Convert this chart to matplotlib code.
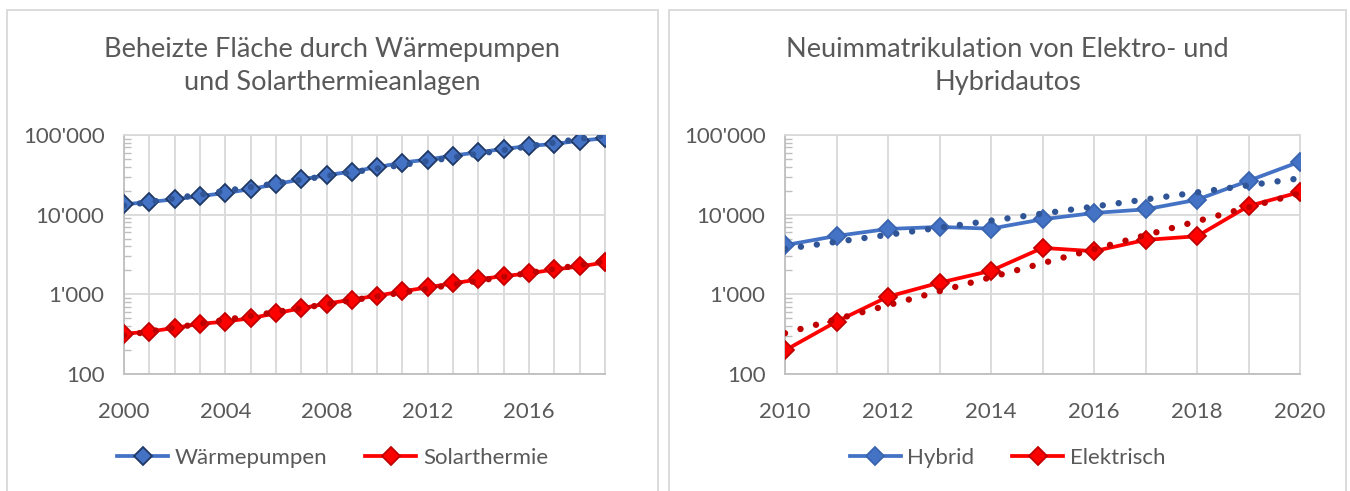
import numpy as np
import matplotlib
matplotlib.use("Agg")
import matplotlib.pyplot as plt
from matplotlib.patches import Rectangle
from matplotlib.ticker import FuncFormatter, LogLocator, NullFormatter

plt.rcParams['font.family'] = ['Lato', 'DejaVu Sans']

# Daten links: beheizte Flaeche
jahre_links = list(range(2000, 2020))
waermepumpen = [13500, 14400, 15600, 17100, 18700, 20900, 24200, 27700, 31300, 34800,
                39400, 45100, 49200, 55200, 60700, 66800, 72900, 77200, 85000, 90800]
solarthermie = [319, 341, 379, 426, 455, 501, 579, 668, 764, 858,
                962, 1090, 1223, 1373, 1540, 1695, 1830, 2054, 2239, 2512]

# Daten rechts: Neuimmatrikulationen
jahre_rechts = list(range(2010, 2021))
hybrid = [4140, 5410, 6620, 7010, 6680, 8750, 10500, 11660, 15400, 26600, 46400]
elektrisch = [198, 455, 935, 1400, 1976, 3830, 3480, 4820, 5360, 12830, 19200]

titel_links = "Beheizte Fläche durch Wärmepumpen\nund Solarthermieanlagen"
titel_rechts = "Neuimmatrikulation von Elektro- und\nHybridautos"

GRAU = '#595959'
GRID = '#D9D9D9'
BLAU = '#4472C4'
BLAU_D = '#2F5597'
ROT = '#FF0000'
ROT_D = '#C00000'

W, H = 1350, 491
fig = plt.figure(figsize=(W / 100, H / 100), dpi=100)

# Rahmen der beiden Diagramme
for x0, x1 in [(7, 658), (669, 1346)]:
    fig.patches.append(Rectangle((x0 / W, -0.05), (x1 - x0) / W, (H - 10) / H + 0.05,
                                 transform=fig.transFigure, fill=False,
                                 edgecolor=GRID, linewidth=1.3))


def tausender(v, pos):
    return "{:,.0f}".format(v).replace(",", "'")


def trend(ax, x, y, farbe):
    x = np.array(x, dtype=float)
    k, d = np.polyfit(x, np.log10(y), 1)
    ax.plot(x, 10 ** (k * x + d), color=farbe, linewidth=4.6,
            linestyle=(0, (0.01, 2.5)), dash_capstyle='round', zorder=4)


def panel(rect, jahre, reihen, tick_step, titel, mitte):
    ax = fig.add_axes(rect)
    ax.set_yscale('log')
    ax.set_ylim(100, 100000)
    ax.set_xlim(jahre[0], jahre[-1])
    handles = []
    for werte, lab, lfarbe, kante, tfarbe in reihen:
        h, = ax.plot(jahre, werte, color=lfarbe, linewidth=2.7, marker='D',
                     markersize=9.5, markerfacecolor=lfarbe, markeredgecolor=kante,
                     markeredgewidth=1.3, zorder=3, label=lab)
        handles.append(h)
        trend(ax, jahre, werte, tfarbe)
    ax.set_xticks(jahre, minor=True)
    ax.set_xticks(list(range(jahre[0], jahre[-1] + 1, tick_step)))
    ax.grid(True, which='major', axis='both', color=GRID, linewidth=1.3, zorder=0)
    ax.grid(True, which='minor', axis='x', color=GRID, linewidth=1.3, zorder=0)
    ax.yaxis.set_major_locator(LogLocator(base=10, numticks=10))
    ax.yaxis.set_minor_locator(LogLocator(base=10, subs=np.arange(2, 10), numticks=10))
    ax.yaxis.set_major_formatter(FuncFormatter(tausender))
    ax.yaxis.set_minor_formatter(NullFormatter())
    ax.tick_params(axis='both', which='major', length=0, labelsize=16,
                   labelcolor=GRAU)
    ax.tick_params(axis='y', which='major', pad=14)
    ax.tick_params(axis='x', which='major', pad=20)
    ax.tick_params(axis='x', which='minor', length=0)
    ax.tick_params(axis='y', which='minor', direction='in', length=5, width=1,
                   color='#BFBFBF')
    for s in ['top', 'right']:
        ax.spines[s].set_color(GRID)
        ax.spines[s].set_linewidth(1.3)
    for s in ['left', 'bottom']:
        ax.spines[s].set_color('#BFBFBF')
        ax.spines[s].set_linewidth(1.3)
    fig.text(mitte / W, 1 - 66 / H, titel, ha='center', va='center',
             fontsize=19.5, color=GRAU, linespacing=1.38)
    fig.legend(handles=handles, loc='center', bbox_to_anchor=(mitte / W, 1 - 458 / H),
               ncol=2, frameon=False, fontsize=16, labelcolor=GRAU,
               handlelength=2.3, handletextpad=0.3, columnspacing=1.7)
    return ax


panel([124 / W, (H - 374) / H, 481 / W, 239 / H], jahre_links,
      [(waermepumpen, 'Wärmepumpen', BLAU, '#203864', BLAU_D),
       (solarthermie, 'Solarthermie', ROT, ROT_D, ROT_D)],
      4, titel_links, 332.5)

panel([785 / W, (H - 374) / H, 515 / W, 239 / H], jahre_rechts,
      [(hybrid, 'Hybrid', BLAU, '#3A64AF', BLAU_D),
       (elektrisch, 'Elektrisch', ROT, ROT_D, ROT_D)],
      2, titel_rechts, 1007.5)

fig.savefig('out.png', dpi=100)
